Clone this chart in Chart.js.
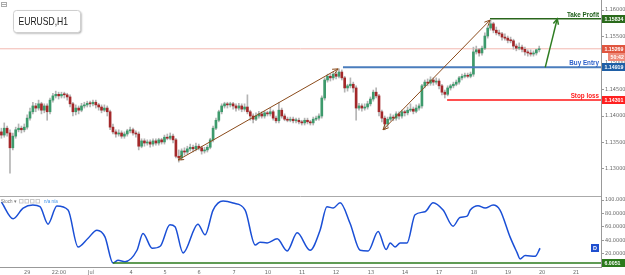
<!DOCTYPE html>
<html><head><meta charset="utf-8">
<script src="https://cdn.jsdelivr.net/npm/chart.js@4.4.1/dist/chart.umd.min.js"></script>
<style>
html,body{margin:0;padding:0;background:#fff;}
#wrap{position:relative;width:625px;height:275px;overflow:hidden;background:#fff;}
#main{position:absolute;left:0;top:0;}
#osc{position:absolute;left:0;top:196px;}
</style></head><body>
<div id="wrap"><canvas id="main" width="625" height="196"></canvas><canvas id="osc" width="625" height="79"></canvas></div>
<script>
// ---------- DATA (2-hour candles, EURUSD) ----------
const opens = [1.1370,1.1364,1.1377,1.1368,1.1340,1.1362,1.1374,1.1377,1.1374,1.1379,
1.1396,1.1408,1.1419,1.1415,1.1423,1.1411,1.1419,1.1408,1.1430,1.1438,
1.1441,1.1438,1.1441,1.1440,1.1436,1.1423,1.1408,1.1415,1.1411,1.1419,
1.1421,1.1424,1.1423,1.1426,1.1421,1.1417,1.1411,1.1415,1.1408,1.1379,
1.1370,1.1366,1.1368,1.1362,1.1366,1.1372,1.1374,1.1368,1.1366,1.1343,
1.1353,1.1349,1.1351,1.1347,1.1353,1.1349,1.1355,1.1351,1.1360,1.1358,
1.1362,1.1355,1.1324,1.1321,1.1334,1.1332,1.1338,1.1341,1.1338,1.1343,
1.1340,1.1334,1.1336,1.1341,1.1355,1.1377,1.1392,1.1408,1.1419,1.1423,
1.1421,1.1423,1.1419,1.1415,1.1419,1.1413,1.1417,1.1408,1.1400,1.1394,
1.1400,1.1404,1.1400,1.1406,1.1404,1.1408,1.1396,1.1391,1.1411,1.1400,
1.1394,1.1392,1.1394,1.1391,1.1392,1.1389,1.1387,1.1392,1.1389,1.1387,
1.1394,1.1396,1.1400,1.1434,1.1468,1.1475,1.1472,1.1479,1.1475,1.1483,
1.1472,1.1453,1.1457,1.1460,1.1453,1.1415,1.1419,1.1415,1.1417,1.1423,
1.1432,1.1445,1.1438,1.1408,1.1396,1.1385,1.1394,1.1398,1.1396,1.1404,
1.1400,1.1408,1.1406,1.1411,1.1413,1.1409,1.1415,1.1419,1.1457,1.1464,
1.1462,1.1468,1.1464,1.1466,1.1457,1.1445,1.1441,1.1453,1.1457,1.1460,
1.1464,1.1472,1.1475,1.1477,1.1475,1.1479,1.1521,1.1525,1.1519,1.1528,
1.1551,1.1566,1.1574,1.1562,1.1557,1.1555,1.1549,1.1547,1.1543,1.1542,
1.1532,1.1528,1.1530,1.1526,1.1521,1.1519,1.1517,1.1519,1.1525];
const highs = [1.1377,1.1387,1.1381,1.1374,1.1368,1.1379,1.1385,1.1381,1.1385,1.1402,
1.1415,1.1426,1.1424,1.1430,1.1426,1.1423,1.1423,1.1434,1.1443,1.1447,
1.1445,1.1445,1.1445,1.1443,1.1440,1.1426,1.1421,1.1419,1.1424,1.1426,
1.1428,1.1428,1.1430,1.1430,1.1424,1.1421,1.1421,1.1419,1.1411,1.1385,
1.1374,1.1374,1.1372,1.1370,1.1375,1.1379,1.1377,1.1372,1.1370,1.1357,
1.1357,1.1355,1.1355,1.1357,1.1357,1.1358,1.1358,1.1364,1.1366,1.1368,
1.1366,1.1358,1.1336,1.1338,1.1340,1.1343,1.1347,1.1345,1.1349,1.1347,
1.1343,1.1341,1.1345,1.1358,1.1381,1.1396,1.1411,1.1423,1.1426,1.1426,
1.1426,1.1426,1.1423,1.1424,1.1423,1.1423,1.1440,1.1411,1.1404,1.1406,
1.1409,1.1408,1.1409,1.1409,1.1415,1.1411,1.1400,1.1426,1.1415,1.1404,
1.1398,1.1398,1.1398,1.1396,1.1396,1.1392,1.1396,1.1396,1.1392,1.1398,
1.1400,1.1404,1.1438,1.1472,1.1479,1.1479,1.1483,1.1483,1.1489,1.1487,
1.1475,1.1460,1.1472,1.1464,1.1457,1.1424,1.1423,1.1423,1.1428,1.1436,
1.1449,1.1453,1.1441,1.1411,1.1400,1.1398,1.1404,1.1402,1.1408,1.1408,
1.1411,1.1411,1.1417,1.1423,1.1417,1.1421,1.1423,1.1460,1.1468,1.1470,
1.1474,1.1472,1.1472,1.1470,1.1460,1.1449,1.1457,1.1460,1.1464,1.1468,
1.1475,1.1479,1.1481,1.1481,1.1483,1.1530,1.1532,1.1528,1.1532,1.1557,
1.1570,1.1581,1.1577,1.1568,1.1562,1.1558,1.1555,1.1551,1.1549,1.1545,
1.1536,1.1538,1.1534,1.1530,1.1525,1.1525,1.1523,1.1526,1.1532];
const lows = [1.1358,1.1360,1.1362,1.1292,1.1336,1.1358,1.1370,1.1368,1.1370,1.1375,
1.1392,1.1404,1.1408,1.1411,1.1404,1.1406,1.1392,1.1404,1.1426,1.1434,
1.1432,1.1434,1.1434,1.1430,1.1417,1.1400,1.1402,1.1404,1.1408,1.1415,
1.1417,1.1417,1.1419,1.1415,1.1411,1.1406,1.1408,1.1400,1.1374,1.1366,
1.1360,1.1362,1.1358,1.1358,1.1362,1.1368,1.1364,1.1360,1.1336,1.1340,
1.1343,1.1345,1.1341,1.1343,1.1345,1.1345,1.1347,1.1347,1.1355,1.1355,
1.1349,1.1321,1.1313,1.1317,1.1326,1.1328,1.1334,1.1332,1.1334,1.1336,
1.1328,1.1330,1.1332,1.1338,1.1351,1.1374,1.1389,1.1404,1.1415,1.1415,
1.1417,1.1413,1.1409,1.1411,1.1408,1.1409,1.1404,1.1392,1.1387,1.1391,
1.1396,1.1396,1.1396,1.1400,1.1400,1.1392,1.1387,1.1387,1.1396,1.1391,
1.1389,1.1389,1.1387,1.1387,1.1385,1.1383,1.1383,1.1385,1.1383,1.1383,
1.1391,1.1392,1.1396,1.1430,1.1464,1.1466,1.1468,1.1470,1.1472,1.1468,
1.1445,1.1447,1.1453,1.1445,1.1392,1.1411,1.1409,1.1411,1.1413,1.1419,
1.1428,1.1434,1.1400,1.1389,1.1374,1.1379,1.1391,1.1391,1.1392,1.1394,
1.1396,1.1400,1.1402,1.1408,1.1404,1.1406,1.1411,1.1415,1.1453,1.1457,
1.1458,1.1458,1.1460,1.1451,1.1440,1.1434,1.1438,1.1449,1.1453,1.1457,
1.1460,1.1468,1.1472,1.1472,1.1472,1.1475,1.1517,1.1513,1.1515,1.1525,
1.1547,1.1562,1.1557,1.1553,1.1551,1.1543,1.1543,1.1538,1.1538,1.1526,
1.1523,1.1525,1.1521,1.1515,1.1513,1.1513,1.1513,1.1515,1.1521];
const closes = [1.1364,1.1377,1.1368,1.1340,1.1362,1.1374,1.1377,1.1374,1.1379,1.1396,
1.1408,1.1419,1.1415,1.1423,1.1411,1.1419,1.1408,1.1430,1.1438,1.1441,
1.1438,1.1441,1.1440,1.1436,1.1423,1.1408,1.1415,1.1411,1.1419,1.1421,
1.1424,1.1423,1.1426,1.1421,1.1417,1.1411,1.1415,1.1408,1.1379,1.1370,
1.1366,1.1368,1.1362,1.1366,1.1372,1.1374,1.1368,1.1366,1.1343,1.1353,
1.1349,1.1351,1.1347,1.1353,1.1349,1.1355,1.1351,1.1360,1.1358,1.1362,
1.1355,1.1324,1.1321,1.1334,1.1332,1.1338,1.1341,1.1338,1.1343,1.1340,
1.1334,1.1336,1.1341,1.1355,1.1377,1.1392,1.1408,1.1419,1.1423,1.1421,
1.1423,1.1419,1.1415,1.1419,1.1413,1.1417,1.1408,1.1400,1.1394,1.1400,
1.1404,1.1400,1.1406,1.1404,1.1408,1.1396,1.1391,1.1411,1.1400,1.1394,
1.1392,1.1394,1.1391,1.1392,1.1389,1.1387,1.1392,1.1389,1.1387,1.1394,
1.1396,1.1400,1.1434,1.1468,1.1475,1.1472,1.1479,1.1475,1.1483,1.1472,
1.1453,1.1457,1.1460,1.1453,1.1415,1.1419,1.1415,1.1417,1.1423,1.1432,
1.1445,1.1438,1.1408,1.1396,1.1385,1.1394,1.1398,1.1396,1.1404,1.1400,
1.1408,1.1406,1.1411,1.1413,1.1409,1.1415,1.1419,1.1457,1.1464,1.1462,
1.1468,1.1464,1.1466,1.1457,1.1445,1.1441,1.1453,1.1457,1.1460,1.1464,
1.1472,1.1475,1.1477,1.1475,1.1479,1.1521,1.1525,1.1519,1.1528,1.1551,
1.1566,1.1574,1.1562,1.1557,1.1555,1.1549,1.1547,1.1543,1.1542,1.1532,
1.1528,1.1530,1.1526,1.1521,1.1519,1.1517,1.1519,1.1525,1.1527];

// x-axis (candle index units) and labels
const tickPositions = [9, 20.1, 31.3, 45.3, 57.2, 69.1, 81.3, 93.2, 105.1, 117, 129.2, 141.1, 153, 165.2, 177.1, 189, 200.9];
const tickLabels = ['29','22:00','Jul','4','5','6','7','10','11','12','13','14','17','18','19','20','21'];
const xMin = -0.49, xMax = 209.6;

// price axis
const priceMin = 1.1249, priceMax = 1.1619;
const priceTicks = [1.13, 1.135, 1.14, 1.145, 1.15, 1.155, 1.16];

// trade levels
const takeProfit = 1.15834, buyEntry = 1.14919, stopLoss = 1.14301, currentPrice = 1.15269;
const countdownText = '50:42';
const takeProfitStart = 170.8, buyEntryStart = 119.4, stopLossStart = 155.8;

// arrows [startIndex, startPrice, endIndex, endPrice]
const arrowSwing1 = [61.8, 1.1317, 117.7, 1.1489];
const arrowSwing2 = [133.4, 1.1374, 170.8, 1.1581];
const arrowTarget = [190.1, 1.14919, 194.3, 1.15834];

// oscillator (Stochastic)
const oscX = [0,4.1,7.6,11.0,13.5,16.3,19.4,23.3,26.8,30.3,33.4,36.2,39.0,40.8,43.2,47.4,49.5,52.7,55.5,58.9,60.7,63.5,68.7,71.2,74.0,77.5,81.0,85.2,88.7,90.4,92.9,96.4,99.9,103.4,107.9,111.4,113.8,116.0,118.4,121.9,125.4,128.2,131.7,134.5,135.9,137.6,139.4,141.8,144.6,148.1,150.9,154.4,157.9,160.3,162.8,163.9,166.6,169.1,171.9,174.3,177.8,180.3,181.3,183.1,186.6,188.3];
const oscValues = [97,72,88,92.5,90,64,91,85,30,43,55,45,6,10,8,25,50,28,31,63,60,21,64,48,85,98.5,95.5,85,33,37,36,42,24,51,25,55,90,88,96,65,25,24,53,26,36,30,36,36,78,82.5,96,85,61,74,76,85,91.5,88,92.5,85,45,21,12,17,16,28];
const oscTicks = [20, 40, 60, 80, 100];
const oscMin = 0, oscMax = 106;
const oscLevel = 6.0051, oscLevelStart = 39.0;

// ---------- STYLE ----------
const NARROW = "'Liberation Sans Narrow','Arial Narrow','DejaVu Sans Condensed','Liberation Sans',Arial,sans-serif";
const SANS = "'Liberation Sans',Arial,sans-serif";
const BULL = '#3d9a6c', BEAR = '#a3282a', WICK = '#b4b4b4';

function seg(x1, y1, x2, y2){ return [{x:x1,y:y1},{x:x2,y:y2}]; }
function txt(ctx, s, x, y, font, color, align, sx, base){
  ctx.save(); ctx.translate(x, y); ctx.scale(sx, 1);
  ctx.font = font; ctx.fillStyle = color; ctx.textAlign = align; ctx.textBaseline = base || 'alphabetic';
  ctx.fillText(s, 0, 0); ctx.restore();
}
function head(ctx, x1, y1, x2, y2, len){
  const a = Math.atan2(y2 - y1, x2 - x1);
  ctx.beginPath();
  ctx.moveTo(x2 - len*Math.cos(a-0.45), y2 - len*Math.sin(a-0.45));
  ctx.lineTo(x2, y2);
  ctx.lineTo(x2 - len*Math.cos(a+0.45), y2 - len*Math.sin(a+0.45));
  ctx.stroke();
}
function axisBox(ctx, x, y, w, color, text){
  ctx.fillStyle = color; ctx.fillRect(x, Math.round(y) - 4, w, 8);
  txt(ctx, text, x + 2.5, Math.round(y) + 0.5, 'bold 5.5px ' + SANS, '#fff', 'left', 0.95, 'middle');
}

const idx = closes.map((_, i) => i);

const mainPlugin = {
  id: 'mainDecor',
  afterDatasetsDraw(chart){
    const ctx = chart.ctx;
    chart.data.datasets.forEach((ds, di) => {
      if (!ds.arrow) return;
      const m = chart.getDatasetMeta(di);
      const p0 = m.data[0], p1 = m.data[1];
      ctx.save(); ctx.strokeStyle = ds.borderColor; ctx.lineWidth = ds.borderWidth;
      head(ctx, p0.x, p0.y, p1.x, p1.y, 6);
      if (ds.arrow === 'both') head(ctx, p1.x, p1.y, p0.x, p0.y, 6);
      ctx.restore();
    });
  },
  afterDraw(chart){
    const ctx = chart.ctx, ys = chart.scales.y, ca = chart.chartArea;
    // level captions
    txt(ctx, 'Take Profit', ca.right - 2, ys.getPixelForValue(takeProfit) - 2, 'bold 7px ' + SANS, '#1f5f1a', 'right', 0.9);
    txt(ctx, 'Buy Entry', ca.right - 2, ys.getPixelForValue(buyEntry) - 2, 'bold 7px ' + SANS, '#2b5fc9', 'right', 0.9);
    txt(ctx, 'Stop loss', ca.right - 2, ys.getPixelForValue(stopLoss) - 2, 'bold 7px ' + SANS, '#ff2020', 'right', 0.9);
    // axis boxes
    axisBox(ctx, ca.right + 1, ys.getPixelForValue(takeProfit), 24, '#2a6b1c', takeProfit.toFixed(5));
    axisBox(ctx, ca.right + 1, ys.getPixelForValue(currentPrice), 24, '#e0553f', currentPrice.toFixed(5));
    axisBox(ctx, ca.right + 7, ys.getPixelForValue(currentPrice) + 8.5, 17, '#ee8a7a', countdownText);
    axisBox(ctx, ca.right + 1, ys.getPixelForValue(buyEntry), 24, '#1f5fa6', buyEntry.toFixed(5));
    axisBox(ctx, ca.right + 1, ys.getPixelForValue(stopLoss), 24, '#ff2020', stopLoss.toFixed(5));
    // symbol box
    ctx.save();
    ctx.shadowColor = 'rgba(0,0,0,0.35)'; ctx.shadowBlur = 2; ctx.shadowOffsetX = 1; ctx.shadowOffsetY = 1;
    ctx.fillStyle = '#fff'; ctx.beginPath(); ctx.roundRect(13.5, 10.5, 67, 22, 3); ctx.fill();
    ctx.shadowColor = 'transparent'; ctx.strokeStyle = '#cfcfcf'; ctx.lineWidth = 1; ctx.stroke();
    ctx.restore();
    txt(ctx, 'EURUSD,H1', 18.5, 22, '11px ' + SANS, '#1a1a1a', 'left', 0.78, 'middle');
    // corner icon
    ctx.save(); ctx.strokeStyle = '#aaa'; ctx.lineWidth = 1;
    ctx.strokeRect(1.5, 2.5, 5, 4); ctx.beginPath(); ctx.moveTo(1.5, 4.5); ctx.lineTo(6.5, 4.5); ctx.stroke();
    ctx.restore();
  }
};

new Chart(document.getElementById('main'), {
  type: 'bar',
  data: {
    datasets: [
      {type:'line', data: seg(xMin, currentPrice, xMax, currentPrice), borderColor:'#f3b9b0', borderWidth:1, pointRadius:0, order:9},
      {data: idx.map(i => ({x:i, y:[lows[i], highs[i]]})), backgroundColor: WICK, barThickness:1, grouped:false, order:8},
      {data: idx.map(i => ({x:i, y:[opens[i], closes[i]]})), backgroundColor: idx.map(i => closes[i] >= opens[i] ? BULL : BEAR), barThickness:2, minBarLength:1, grouped:false, order:7},
      {type:'line', data: seg(buyEntryStart, buyEntry, xMax, buyEntry), borderColor:'#4a7dbd', borderWidth:2, pointRadius:0, order:3},
      {type:'line', data: seg(stopLossStart, stopLoss, xMax, stopLoss), borderColor:'#ff4f4f', borderWidth:2, pointRadius:0, order:3},
      {type:'line', data: seg(takeProfitStart, takeProfit, xMax, takeProfit), borderColor:'#2a661c', borderWidth:1.5, pointRadius:0, order:3},
      {type:'line', arrow:'both', data: seg(...arrowSwing1), borderColor:'#8a4a1a', borderWidth:1, pointRadius:0, order:1},
      {type:'line', arrow:'both', data: seg(...arrowSwing2), borderColor:'#8a4a1a', borderWidth:1, pointRadius:0, order:1},
      {type:'line', arrow:'end', data: seg(...arrowTarget), borderColor:'#2e7d22', borderWidth:1.5, pointRadius:0, order:1}
    ]
  },
  options: {
    responsive:false, animation:false, maintainAspectRatio:false,
    layout:{padding:0},
    plugins:{legend:{display:false}, tooltip:{enabled:false}},
    scales:{
      x:{type:'linear', min:xMin, max:xMax, offset:false, display:false},
      y:{type:'linear', position:'right', min:priceMin, max:priceMax,
         afterBuildTicks: s => { s.ticks = priceTicks.map(v => ({value:v})); },
         afterFit: s => { s.width = 24; s.paddingTop = 0; s.paddingBottom = 0; },
         ticks:{autoSkip:false, callback: v => v.toFixed(5), font:{size:5.5, family:NARROW}, color:'#666', padding:1},
         grid:{drawOnChartArea:false, tickLength:3, color:'#999'},
         border:{color:'#999'}}
    }
  },
  plugins:[mainPlugin]
});

const oscPlugin = {
  id:'oscDecor',
  afterDraw(chart){
    const ctx = chart.ctx, ys = chart.scales.y, ca = chart.chartArea;
    ctx.save(); ctx.strokeStyle = '#aaa'; ctx.lineWidth = 1;
    ctx.beginPath(); ctx.moveTo(0, 0.5); ctx.lineTo(ca.right, 0.5); ctx.stroke();
    ctx.restore();
    txt(ctx, 'Stoch \u25BE', 1, 6.5, '4.5px ' + SANS, '#777', 'left', 1);
    ctx.save(); ctx.strokeStyle = '#ccc'; ctx.lineWidth = 1;
    for (let k = 0; k < 4; k++) ctx.strokeRect(19.5 + k*5.5, 3.5, 3.5, 3.5);
    ctx.restore();
    txt(ctx, 'n/a n/a', 44, 6.5, '4.5px ' + SANS, '#3b8fe8', 'left', 1);
    axisBox(ctx, ca.right + 1, ys.getPixelForValue(oscLevel), 24, '#2b7a1c', oscLevel.toFixed(4));
    const yD = ys.getPixelForValue(oscValues[oscValues.length - 1]);
    ctx.fillStyle = '#1f4fcf'; ctx.fillRect(ca.right - 10, Math.round(yD) - 4, 8, 8);
    txt(ctx, 'D', ca.right - 6, Math.round(yD) + 0.5, 'bold 5.5px ' + SANS, '#fff', 'center', 1, 'middle');
  }
};

new Chart(document.getElementById('osc'), {
  type:'line',
  data:{
    datasets:[
      {data: seg(oscLevelStart, oscLevel, xMax, oscLevel), borderColor:'#2b7a1c', borderWidth:1.5, pointRadius:0},
      {data: oscX.map((x, i) => ({x, y:oscValues[i]})), borderColor:'#1a4fd6', borderWidth:1.5, pointRadius:0, cubicInterpolationMode:'monotone'}
    ]
  },
  options:{
    responsive:false, animation:false, maintainAspectRatio:false,
    layout:{padding:0},
    plugins:{legend:{display:false}, tooltip:{enabled:false}},
    scales:{
      x:{type:'linear', min:xMin, max:xMax, offset:false,
         afterBuildTicks: s => { s.ticks = tickPositions.map(v => ({value:v})); },
         afterFit: s => { s.height = 8; s.paddingLeft = 0; s.paddingRight = 0; },
         ticks:{autoSkip:false, maxRotation:0, callback: v => { const k = tickPositions.indexOf(v); return k >= 0 ? tickLabels[k] : ''; }, font:{size:5.5, family:NARROW}, color:'#666', padding:2},
         grid:{display:false, drawTicks:false},
         border:{display:true, color:'#999'}},
      y:{type:'linear', position:'right', min:oscMin, max:oscMax,
         afterBuildTicks: s => { s.ticks = oscTicks.map(v => ({value:v})); },
         afterFit: s => { s.width = 24; s.paddingTop = 0; s.paddingBottom = 0; },
         ticks:{autoSkip:false, callback: v => v.toFixed(4), font:{size:5.5, family:NARROW}, color:'#666', padding:1},
         grid:{drawOnChartArea:false, tickLength:3, color:'#999'},
         border:{color:'#999'}}
    }
  },
  plugins:[oscPlugin]
});
</script>
</body></html>
